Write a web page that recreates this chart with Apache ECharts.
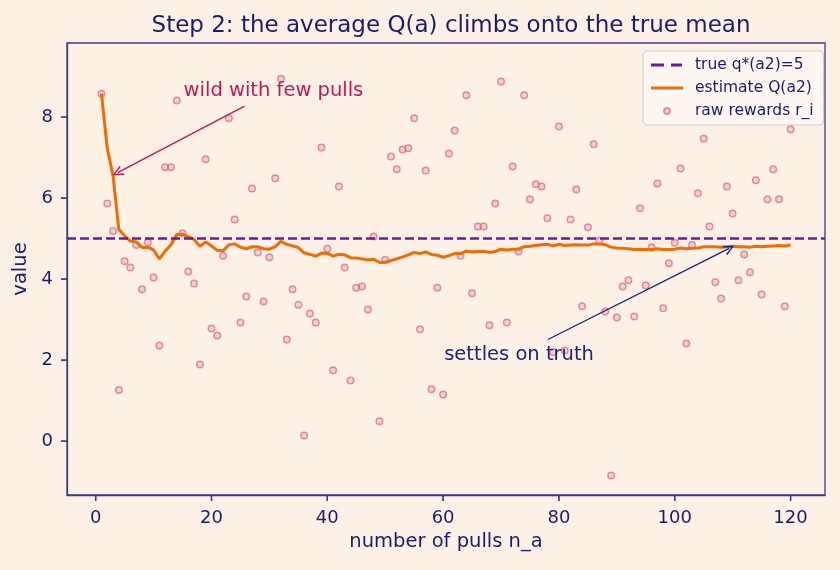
<!DOCTYPE html>
<html>
<head>
<meta charset="utf-8">
<script src="https://cdn.jsdelivr.net/npm/echarts@6/dist/echarts.min.js"></script>
<style>
  html, body { margin: 0; padding: 0; background: #fdf0e5; }
  #chart { width: 840px; height: 570px; }
</style>
</head>
<body>
<div id="chart"></div>
<script>
// raw rewards r_i for pulls 1..120
var rewards = [
  8.58, 5.87, 5.19, 1.26, 4.44, 4.29, 4.84, 3.75, 4.91, 4.04,
  2.36, 6.76, 6.76, 8.41, 5.13, 4.19, 3.89, 1.89, 6.96, 2.78,
  2.61, 4.58, 7.97, 5.47, 2.93, 3.57, 6.24, 4.66, 3.45, 4.54,
  6.49, 8.95, 2.51, 3.75, 3.37, 0.14, 3.15, 2.93, 7.25, 4.75,
  1.75, 6.29, 4.29, 1.50, 3.79, 3.82, 3.25, 5.05, 0.49, 4.48,
  7.03, 6.71, 7.20, 7.23, 7.97, 2.76, 6.68, 1.28, 3.79, 1.15,
  7.10, 7.67, 4.58, 8.54, 3.65, 5.30, 5.30, 2.86, 5.87, 8.88,
  2.93, 6.78, 4.68, 8.54, 5.97, 6.34, 6.29, 5.50, 2.20, 7.77,
  2.24, 5.47, 6.21, 3.33, 5.28, 7.33, 4.95, 3.20, -0.85, 3.05,
  3.82, 3.97, 3.08, 5.75, 3.84, 4.78, 6.36, 3.28, 4.39, 4.90,
  6.73, 2.41, 4.84, 6.12, 7.47, 5.30, 3.92, 3.52, 6.29, 5.62,
  3.97, 4.61, 4.17, 6.44, 3.62, 5.97, 6.71, 5.97, 3.33, 7.70
];

// estimate Q(a2) after each pull
var estimate = [
  8.58, 7.23, 6.55, 5.23, 5.07, 4.94, 4.92, 4.78, 4.79, 4.72,
  4.50, 4.69, 4.85, 5.10, 5.11, 5.05, 4.98, 4.81, 4.92, 4.82,
  4.71, 4.70, 4.85, 4.87, 4.79, 4.75, 4.80, 4.80, 4.75, 4.74,
  4.80, 4.93, 4.86, 4.82, 4.78, 4.65, 4.61, 4.57, 4.64, 4.64,
  4.57, 4.61, 4.60, 4.53, 4.52, 4.50, 4.47, 4.49, 4.41, 4.41,
  4.46, 4.50, 4.55, 4.60, 4.66, 4.63, 4.67, 4.61, 4.59, 4.54,
  4.58, 4.63, 4.63, 4.69, 4.67, 4.68, 4.69, 4.66, 4.68, 4.74,
  4.72, 4.74, 4.74, 4.80, 4.81, 4.83, 4.85, 4.86, 4.82, 4.86,
  4.83, 4.84, 4.85, 4.84, 4.84, 4.87, 4.87, 4.85, 4.79, 4.77,
  4.76, 4.75, 4.73, 4.74, 4.73, 4.73, 4.75, 4.73, 4.73, 4.74,
  4.77, 4.75, 4.76, 4.77, 4.80, 4.80, 4.80, 4.79, 4.80, 4.81,
  4.80, 4.80, 4.79, 4.81, 4.80, 4.81, 4.82, 4.83, 4.82, 4.84
];

var trueMean = 5;
var xTicks = [0, 20, 40, 60, 80, 100, 120];
var yTicks = [0, 2, 4, 6, 8];
var xRange = [-4.95, 125.95];
var yRange = [-1.33, 9.83];

var names = ['true q*(a2)=5', 'estimate Q(a2)', 'raw rewards r_i'];

var FONT = 'DejaVu Sans';
var NAVY = '#1c1c6e';
var SPINE = '#3b3b8c';
var CRIMSON = '#c2185b';
var INK = '#1a237e';
var PURPLE = '#6a1b9a';
var ORANGE = '#ef6c00';
var TICK_LEN = 6;
var TICK_W = 1.3;

// open "->" style arrow head, tip pointing up
var arrowHead = 'path://M5,0 L10,9 L8.8,9.8 L5,2.6 L1.2,9.8 L0,9 Z';
// legend icons drawn in a 32x14 box
var dashIcon = 'path://M0,0 M32,14 M0,5.6 L13,5.6 L13,8.4 L0,8.4 Z M20,5.6 L31,5.6 L31,8.4 L20,8.4 Z';
var lineIcon = 'path://M0,0 M32,14 M0,5.5 L32,5.5 L32,8.5 L0,8.5 Z';
var dotIcon = 'path://M0,0 M32,14 M13,7 A3,3 0 1 0 19,7 A3,3 0 1 0 13,7 Z';

// tick mark rectangle just outside the plot box at pixel point p
function tickRect(p, vertical) {
  return vertical
    ? { x: p[0] - TICK_W / 2, y: p[1], width: TICK_W, height: TICK_LEN }
    : { x: p[0] - TICK_LEN, y: p[1] - TICK_W / 2, width: TICK_LEN, height: TICK_W };
}

// outward tick marks, drawn through the axis scales
function tickSeries(values, vertical) {
  return {
    type: 'custom',
    coordinateSystem: 'cartesian2d',
    xAxisIndex: 0,
    yAxisIndex: 0,
    silent: true,
    z: 10,
    clip: false,
    encode: { x: 0, y: 1 },
    data: values.map(function (v) { return vertical ? [v, yRange[0]] : [xRange[0], v]; }),
    renderItem: function (params, api) {
      var p = api.coord([api.value(0), api.value(1)]);
      return {
        type: 'rect',
        shape: tickRect(p, vertical),
        style: { fill: SPINE }
      };
    }
  };
}

var chart = echarts.init(document.getElementById('chart'));

var option = {
  backgroundColor: '#fdf0e5',
  animation: false,
  title: {
    text: 'Step 2: the average Q(a) climbs onto the true mean',
    left: 446,
    top: 10,
    textAlign: 'center',
    textStyle: { fontFamily: FONT, fontSize: 23, fontWeight: 'normal', color: NAVY }
  },
  legend: {
    orient: 'vertical',
    left: 643,
    top: 51,
    padding: [6, 10, 6, 7],
    itemWidth: 32,
    itemHeight: 14,
    itemGap: 7,
    backgroundColor: 'rgba(255,255,255,0.45)',
    borderColor: '#cccccc',
    borderWidth: 1,
    borderRadius: 4,
    textStyle: { fontFamily: FONT, fontSize: 15.5, color: NAVY, padding: [0, 0, 0, 7] },
    data: [
      { name: names[0], icon: dashIcon },
      { name: names[1], icon: lineIcon },
      { name: names[2], icon: dotIcon }
    ]
  },
  grid: {
    left: 67, right: 15, top: 43, bottom: 75,
    show: true, borderColor: SPINE, borderWidth: 1.3, backgroundColor: 'transparent'
  },
  xAxis: {
    type: 'value',
    min: xRange[0],
    max: xRange[1],
    name: 'number of pulls n_a',
    nameLocation: 'middle',
    nameGap: 33,
    nameTextStyle: { fontFamily: FONT, fontSize: 19.5, color: NAVY },
    axisLine: { show: true, onZero: false, lineStyle: { color: SPINE, width: 1.3 } },
    axisTick: { show: false },
    axisLabel: { fontFamily: FONT, fontSize: 18, color: NAVY, margin: 14, customValues: xTicks },
    splitLine: { show: false }
  },
  yAxis: {
    type: 'value',
    min: yRange[0],
    max: yRange[1],
    name: 'value',
    nameLocation: 'middle',
    nameGap: 31,
    nameRotate: 90,
    nameTextStyle: { fontFamily: FONT, fontSize: 19.5, color: NAVY },
    axisLine: { show: true, onZero: false, lineStyle: { color: SPINE, width: 1.3 } },
    axisTick: { show: false },
    axisLabel: { fontFamily: FONT, fontSize: 18, color: NAVY, margin: 14, customValues: yTicks },
    splitLine: { show: false }
  },
  series: [
    {
      name: names[2],
      type: 'scatter',
      z: 2,
      symbol: 'circle',
      symbolSize: 6.5,
      itemStyle: {
        color: 'rgba(226,120,150,0.35)',
        borderColor: 'rgba(208,90,125,0.8)',
        borderWidth: 1.5
      },
      data: rewards.map(function (r, i) { return [i + 1, r]; })
    },
    {
      name: names[0],
      type: 'line',
      z: 3,
      symbol: 'none',
      lineStyle: { color: PURPLE, width: 2.6, type: [9, 4] },
      itemStyle: { color: PURPLE },
      data: [],
      markLine: {
        silent: true,
        symbol: 'none',
        label: { show: false },
        lineStyle: { color: PURPLE, width: 2.6, type: [9, 4] },
        data: [{ yAxis: trueMean }]
      }
    },
    {
      name: names[1],
      type: 'line',
      z: 4,
      symbol: 'none',
      showSymbol: false,
      lineStyle: { color: ORANGE, width: 3 },
      itemStyle: { color: ORANGE },
      data: estimate.map(function (v, i) { return [i + 1, v]; })
    },
    {
      name: 'note-wild',
      type: 'line',
      z: 5,
      data: [],
      markLine: {
        silent: true,
        symbol: ['none', arrowHead],
        symbolSize: [10, 11],
        label: { show: false },
        lineStyle: { color: CRIMSON, width: 1.3, type: 'solid' },
        data: [[{ coord: [25.7, 8.27] }, { coord: [3.8, 6.63] }]]
      },
      markPoint: {
        silent: true,
        symbol: 'circle',
        symbolSize: 1,
        itemStyle: { color: 'rgba(0,0,0,0)' },
        label: {
          show: true, position: 'right', distance: 0,
          formatter: 'wild with few pulls',
          fontFamily: FONT, fontSize: 19.5, color: CRIMSON
        },
        data: [{ coord: [15.1, 8.64] }]
      }
    },
    {
      name: 'note-settle',
      type: 'line',
      z: 5,
      data: [],
      markLine: {
        silent: true,
        symbol: ['none', arrowHead],
        symbolSize: [10, 11],
        label: { show: false },
        lineStyle: { color: INK, width: 1.3, type: 'solid' },
        data: [[{ coord: [78.1, 2.51] }, { coord: [109.4, 4.76] }]]
      },
      markPoint: {
        silent: true,
        symbol: 'circle',
        symbolSize: 1,
        itemStyle: { color: 'rgba(0,0,0,0)' },
        label: {
          show: true, position: 'right', distance: 0,
          formatter: 'settles on truth',
          fontFamily: FONT, fontSize: 19.5, color: INK
        },
        data: [{ coord: [60.1, 2.12] }]
      }
    },
    tickSeries(xTicks, true),
    tickSeries(yTicks, false)
  ]
};

chart.setOption(option);

// same ticks again as plain graphics, in case the custom series is not drawn
var tickEls = [];
xTicks.forEach(function (v) {
  var p = chart.convertToPixel({ gridIndex: 0 }, [v, yRange[0]]);
  if (p && isFinite(p[0]) && isFinite(p[1])) {
    tickEls.push({ type: 'rect', silent: true, z: 100, shape: tickRect(p, true), style: { fill: SPINE } });
  }
});
yTicks.forEach(function (v) {
  var p = chart.convertToPixel({ gridIndex: 0 }, [xRange[0], v]);
  if (p && isFinite(p[0]) && isFinite(p[1])) {
    tickEls.push({ type: 'rect', silent: true, z: 100, shape: tickRect(p, false), style: { fill: SPINE } });
  }
});
if (tickEls.length) {
  chart.setOption({ graphic: { elements: tickEls } });
}
</script>
</body>
</html>
